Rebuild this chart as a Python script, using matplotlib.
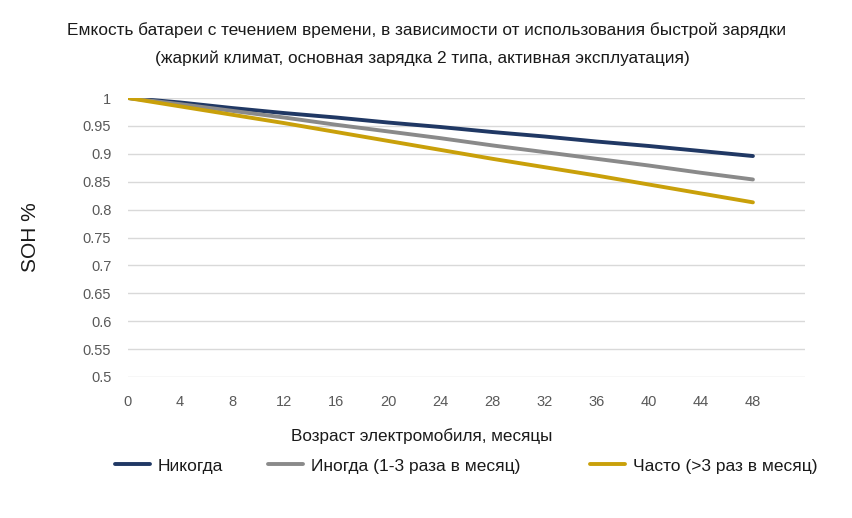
import matplotlib
matplotlib.use("Agg")
import matplotlib.pyplot as plt

months = [0, 4, 8, 12, 16, 20, 24, 28, 32, 36, 40, 44, 48]
never = [1.0, 0.992, 0.982, 0.973, 0.965, 0.956, 0.948, 0.939, 0.931, 0.922, 0.914, 0.905, 0.896]
sometimes = [1.0, 0.989, 0.977, 0.965, 0.952, 0.940, 0.928, 0.915, 0.903, 0.891, 0.879, 0.866, 0.854]
often = [1.0, 0.985, 0.970, 0.955, 0.939, 0.923, 0.907, 0.891, 0.876, 0.861, 0.845, 0.829, 0.813]
labels = ["Никогда", "Иногда (1-3 раза в месяц)", "Часто (>3 раз в месяц)"]
colors = ["#203864", "#8a8a8a", "#c9a00a"]
yticks = [0.5, 0.55, 0.6, 0.65, 0.7, 0.75, 0.8, 0.85, 0.9, 0.95, 1.0]
ytick_labels = ["0.5", "0.55", "0.6", "0.65", "0.7", "0.75", "0.8", "0.85", "0.9", "0.95", "1"]

plt.rcParams['font.family'] = ['Liberation Sans', 'DejaVu Sans']

fig = plt.figure(figsize=(8.52, 5.18), dpi=100)
ax = fig.add_axes([128/852, 1-377/518, (805-128)/852, (377-98)/518])

series = [never, sometimes, often]
handles = []
for vals, lab, col in zip(series, labels, colors):
    h, = ax.plot(months, vals, color=col, lw=2.8, solid_capstyle='round', label=lab, zorder=3)
    handles.append(h)

ax.set_xlim(0, 52)
ax.set_ylim(0.5, 1.0)
ax.set_xticks(months)
ax.set_xticklabels([str(m) for m in months])
ax.set_yticks(yticks)
ax.set_yticklabels(ytick_labels)
ax.tick_params(axis='both', length=0, labelsize=10.5, labelcolor='#595959')
ax.tick_params(axis='x', pad=13)
ax.tick_params(axis='y', pad=12)
ax.grid(axis='y', color='#d9d9d9', lw=1.0)
ax.set_axisbelow(True)
for s in ax.spines.values():
    s.set_visible(False)

fig.text(426.5/852, 1-30/518, "Емкость батареи с течением времени, в зависимости от использования быстрой зарядки",
         ha='center', va='center', fontsize=12.4, color='#1a1a1a')
fig.text(422.5/852, 1-58/518, "(жаркий климат, основная зарядка 2 типа, активная эксплуатация)",
         ha='center', va='center', fontsize=12.4, color='#1a1a1a')
fig.text(422/852, 1-436/518, "Возраст электромобиля, месяцы", ha='center', va='center',
         fontsize=12.3, color='#1a1a1a')
fig.text(30/852, 1-237/518, "SOH %", rotation=90, ha='center', va='center',
         fontsize=15, color='#1a1a1a')

legend_x = [115, 268, 590]
for h, lab, lx in zip(handles, labels, legend_x):
    lg = fig.legend([h], [lab], loc='center left', bbox_to_anchor=(lx/852, 1-466/518),
                    frameon=False, fontsize=12.5, handlelength=2.0, handletextpad=0.45,
                    borderpad=0, borderaxespad=0)
    for t in lg.get_texts():
        t.set_color('#1a1a1a')

fig.savefig("out.png", dpi=100)
